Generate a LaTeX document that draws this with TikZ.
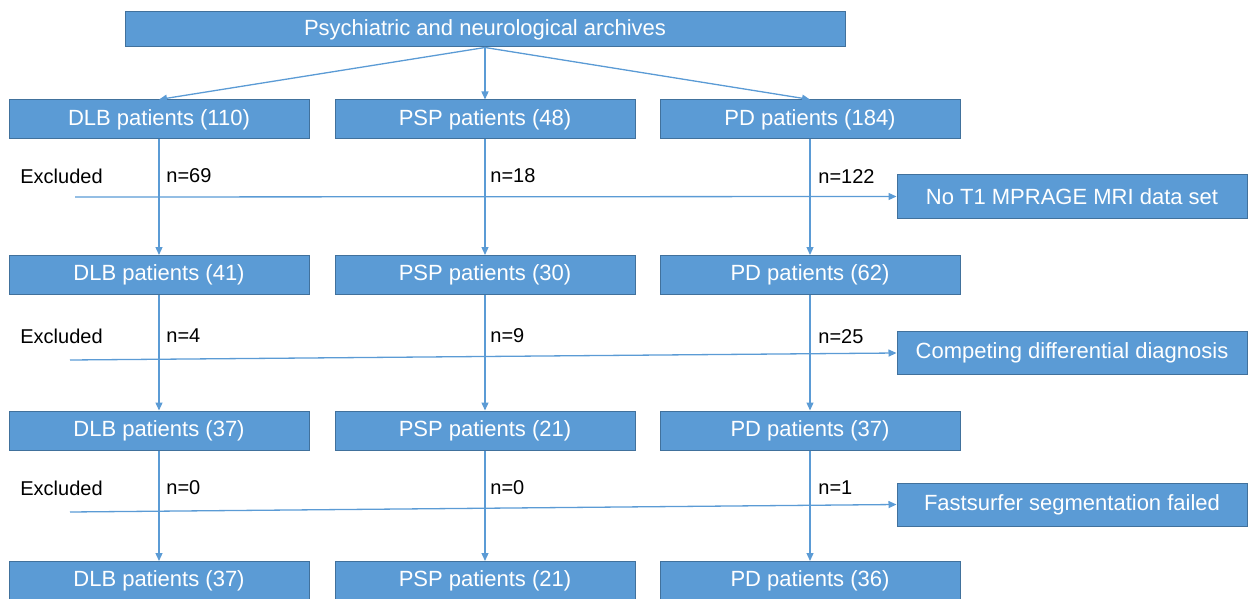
\documentclass[tikz,border=0pt]{standalone}
\usepackage{fontspec}
\setmainfont{Liberation Sans}
\usepackage{tikz}
\usetikzlibrary{arrows.meta, positioning}
\definecolor{boxblue}{HTML}{5B9BD5}
\definecolor{edgeblue}{HTML}{41719C}

\begin{document}
\begin{tikzpicture}[x=0.5pt, y=-0.5pt, font=\fontsize{11}{13}\selectfont,
   box/.style={draw=edgeblue, line width=0.5pt, fill=boxblue, text=white,
     minimum width=150pt, minimum height=19.5pt, inner sep=2pt},
   side/.style={box, minimum width=175pt, minimum height=21.5pt},
   note/.style={font=\fontsize{10}{12}\selectfont, anchor=west, inner sep=0pt},
   arr/.style={draw=boxblue, line width=0.65pt, -{Triangle[length=4pt, width=3.5pt]}}]
  \useasboundingbox (0,0) rectangle (1248,599);
  \node[box, minimum width=360pt, minimum height=17.5pt] (arch) at (485,29.5) {Psychiatric and neurological archives};
  % patient groups, one row per step
  \node[box] (dlb1) at (159,119.5) {DLB patients (110)};
  \node[box] (psp1) at (485,119.5) {PSP patients (48)};
  \node[box] (pd1)  at (810,119.5) {PD patients (184)};
  \node[box] (dlb2) at (159,275) {DLB patients (41)};
  \node[box] (psp2) at (485,275) {PSP patients (30)};
  \node[box] (pd2)  at (810,275) {PD patients (62)};
  \node[box] (dlb3) at (159,430.5) {DLB patients (37)};
  \node[box] (psp3) at (485,430.5) {PSP patients (21)};
  \node[box] (pd3)  at (810,430.5) {PD patients (37)};
  \node[box] (dlb4) at (159,581) {DLB patients (37)};
  \node[box] (psp4) at (485,581) {PSP patients (21)};
  \node[box] (pd4)  at (810,581) {PD patients (36)};
  % reasons
  \node[side] (mri)  at (1072,196.5) {No T1 MPRAGE MRI data set};
  \node[side] (diff) at (1072,353) {Competing differential diagnosis};
  \node[side] (seg)  at (1072,504.5) {Fastsurfer segmentation failed};
  \draw[arr] (arch.south) -- (dlb1.north);
  \draw[arr] (arch.south) -- (psp1.north);
  \draw[arr] (arch.south) -- (pd1.north);
  \draw[arr] (dlb1) -- (dlb2);
  \draw[arr] (psp1) -- (psp2);
  \draw[arr] (pd1) -- (pd2);
  \draw[arr] (dlb2) -- (dlb3);
  \draw[arr] (psp2) -- (psp3);
  \draw[arr] (pd2) -- (pd3);
  \draw[arr] (dlb3) -- (dlb4);
  \draw[arr] (psp3) -- (psp4);
  \draw[arr] (pd3) -- (pd4);
  % exclusions
  \coordinate (ex1) at (75,197);
  \coordinate (ex2) at (70,360);
  \coordinate (ex3) at (70,512);
  \draw[arr] (ex1) -- (mri.west);
  \draw[arr] (ex2) -- (diff.west);
  \draw[arr] (ex3) -- (seg.west);
  \node[note] (lab1) at (20,176) {Excluded};
  \node[note] (lab2) at (20,336) {Excluded};
  \node[note] (lab3) at (20,488) {Excluded};
  \node[note] (n1a) at (166,176) {n=69};
  \node[note] (n1b) at (490,176) {n=18};
  \node[note] (n1c) at (818,177) {n=122};
  \node[note] (n2a) at (166,336) {n=4};
  \node[note] (n2b) at (490,336) {n=9};
  \node[note] (n2c) at (818,337) {n=25};
  \node[note] (n3a) at (166,488) {n=0};
  \node[note] (n3b) at (490,488) {n=0};
  \node[note] (n3c) at (818,488) {n=1};
\end{tikzpicture}
\end{document}
